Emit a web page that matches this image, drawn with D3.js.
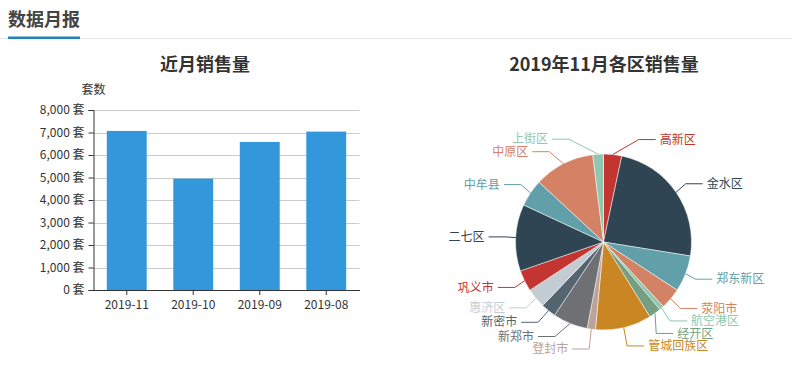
<!DOCTYPE html>
<html>
<head>
<meta charset="utf-8">
<script src="https://cdn.jsdelivr.net/npm/d3@7"></script>
<style>
  body { margin: 0; background: #fff; }
  svg { display: block; font-family: "Noto Sans CJK SC", "Noto Sans", sans-serif; }
</style>
</head>
<body>
<div id="chart"></div>
<script>
const WIDTH = 792, HEIGHT = 367;

// bar chart data
const months = ['2019-11', '2019-10', '2019-09', '2019-08'];
const sales = [7070, 4950, 6580, 7040];
const yTicks = [0, 1000, 2000, 3000, 4000, 5000, 6000, 7000, 8000];

// pie chart data (clockwise from top)
const districts = ['高新区', '金水区', '郑东新区', '荥阳市', '航空港区', '经开区', '管城回族区', '登封市',
  '新郑市', '新密市', '惠济区', '巩义市', '二七区', '中牟县', '中原区', '上街区'];
const districtSales = [236, 1711, 472, 275, 59, 157, 728, 108, 452, 197, 256, 275, 865, 354, 787, 138];
const palette = ['#c23531', '#2f4554', '#61a0a8', '#d48265', '#91c7ae', '#749f83', '#ca8622',
  '#bda29a', '#6e7074', '#546570', '#c4ccd3'];

const svg = d3.select('#chart').append('svg')
  .attr('width', WIDTH)
  .attr('height', HEIGHT);

// header
svg.append('text')
  .attr('x', 8)
  .attr('y', 26)
  .style('font-size', '18px')
  .style('font-weight', 'bold')
  .attr('fill', '#444')
  .text('数据月报');

svg.append('line')
  .attr('x1', 0).attr('x2', WIDTH)
  .attr('y1', 38.5).attr('y2', 38.5)
  .attr('stroke', '#e6e6e6');

svg.append('rect')
  .attr('x', 8).attr('y', 36.5)
  .attr('width', 72).attr('height', 2.5)
  .attr('fill', '#1e88b4');

// ---- bar chart ----
const BAR = { left: 93.5, right: 359.5, top: 110, bottom: 290 };

const x = d3.scaleBand().domain(months).range([BAR.left, BAR.right]).paddingInner(0.4).paddingOuter(0.2);
const xTicks = d3.scaleBand().domain(months).range([BAR.left, BAR.right]);
const y = d3.scaleLinear().domain([0, 8000]).range([BAR.bottom, BAR.top]);

svg.append('text')
  .attr('x', 205)
  .attr('y', 71)
  .attr('text-anchor', 'middle')
  .style('font-size', '18px')
  .style('font-weight', 'bold')
  .attr('fill', '#333')
  .text('近月销售量');

svg.append('text')
  .attr('x', BAR.left)
  .attr('y', 94)
  .attr('text-anchor', 'middle')
  .style('font-size', '12px')
  .attr('fill', '#333')
  .text('套数');

// grid
svg.append('g')
  .selectAll('line')
  .data(yTicks.slice(1))
  .join('line')
  .attr('x1', BAR.left).attr('x2', BAR.right)
  .attr('y1', d => Math.round(y(d)) + 0.5).attr('y2', d => Math.round(y(d)) + 0.5)
  .attr('stroke', '#ccc');

svg.append('g')
  .selectAll('rect')
  .data(sales)
  .join('rect')
  .attr('x', (d, i) => x(months[i]))
  .attr('y', d => y(d))
  .attr('width', x.bandwidth())
  .attr('height', d => BAR.bottom - y(d))
  .attr('fill', '#3398db');

const fmt = d3.format(',');
const yAxis = svg.append('g')
  .attr('transform', `translate(${BAR.left},0)`)
  .call(d3.axisLeft(y).tickValues(yTicks).tickSize(5).tickPadding(4).tickFormat(d => fmt(d) + ' 套'));

const xAxis = svg.append('g')
  .attr('transform', `translate(0,${BAR.bottom})`)
  .call(d3.axisBottom(xTicks).tickSize(5).tickPadding(5).tickSizeOuter(0));

[yAxis, xAxis].forEach(g => {
  g.select('.domain').attr('stroke', '#333');
  g.selectAll('.tick line').attr('stroke', '#333');
  g.selectAll('text').attr('fill', '#333').style('font-size', '12px')
    .style('font-family', '"Noto Sans CJK SC", "Noto Sans", sans-serif');
});

// ---- pie chart ----
const PIE = { cx: 603.5, cy: 242, r: 88 };
const LEN1 = 15, LEN2 = 17, R3 = 115, LINE_H = 12.5;

svg.append('text')
  .attr('x', 604)
  .attr('y', 71)
  .attr('text-anchor', 'middle')
  .style('font-size', '18px')
  .style('font-weight', 'bold')
  .attr('fill', '#333')
  .text('2019年11月各区销售量');

const pieData = districts.map((name, i) => ({ name, value: districtSales[i], color: palette[i % palette.length] }));
const arcs = d3.pie().value(d => d.value).sort(null)(pieData);
const arc = d3.arc().innerRadius(0).outerRadius(PIE.r);

const pieG = svg.append('g').attr('transform', `translate(${PIE.cx},${PIE.cy})`);
pieG.selectAll('path')
  .data(arcs)
  .join('path')
  .attr('d', arc)
  .attr('fill', d => d.data.color)
  .attr('stroke', '#fff')
  .attr('stroke-width', 0.5);

// label layout (relative to pie centre)
const labels = arcs.map(a => {
  const mid = (a.startAngle + a.endAngle) / 2;
  const sx = Math.sin(mid), sy = -Math.cos(mid);
  return {
    d: a.data,
    dir: sx < 0 ? -1 : 1,
    p0: [PIE.r * sx, PIE.r * sy],
    ex: (PIE.r + LEN1) * sx,
    y: (PIE.r + LEN1) * sy
  };
});

function spread(list) {
  list.sort((a, b) => a.y - b.y);
  // push down
  for (let i = 1; i < list.length; i++) {
    if (list[i].y - list[i - 1].y < LINE_H) list[i].y = list[i - 1].y + LINE_H;
  }
  // limit bottom, push back up
  const maxY = PIE.r + LEN1 + 4;
  if (list.length && list[list.length - 1].y > maxY) {
    list[list.length - 1].y = maxY;
    for (let i = list.length - 2; i >= 0; i--) {
      if (list[i + 1].y - list[i].y < LINE_H) list[i].y = list[i + 1].y - LINE_H;
    }
  }
  list.forEach(l => {
    const dy = Math.abs(l.y);
    l.endX = dy < PIE.r + LEN1
      ? l.dir * Math.sqrt(R3 * R3 - dy * dy)
      : l.ex + l.dir * LEN2;
  });
}
spread(labels.filter(l => l.dir > 0));
spread(labels.filter(l => l.dir < 0));

const labelG = pieG.append('g');
labelG.selectAll('polyline')
  .data(labels)
  .join('polyline')
  .attr('points', l => [l.p0, [l.endX - l.dir * LEN2, l.y], [l.endX, l.y]].map(p => p.join(',')).join(' '))
  .attr('fill', 'none')
  .attr('stroke', l => l.d.color)
  .attr('stroke-width', 1);

labelG.selectAll('text')
  .data(labels)
  .join('text')
  .attr('x', l => l.endX + l.dir * 4)
  .attr('y', l => l.y)
  .attr('dy', '0.35em')
  .attr('text-anchor', l => l.dir > 0 ? 'start' : 'end')
  .style('font-size', '12px')
  .attr('fill', l => l.d.color)
  .text(l => l.d.name);
</script>
</body>
</html>
